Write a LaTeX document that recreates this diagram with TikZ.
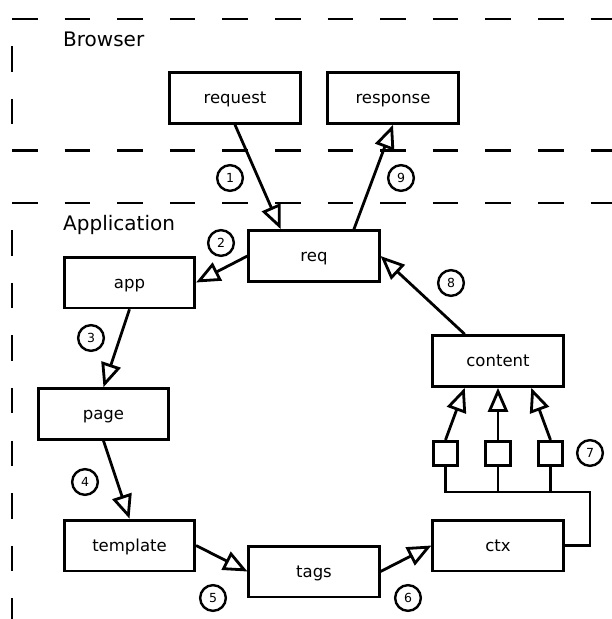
\documentclass[tikz,border=0pt]{standalone}
\usepackage{fontspec}
\setmainfont{DejaVu Sans}
\usetikzlibrary{arrows.meta,calc}
\begin{document}
\begin{tikzpicture}[x=1pt,y=-1pt,
  box/.style={draw,line width=2.8pt,minimum width=130.3pt,minimum height=50.8pt,inner sep=0pt,text height=14pt,text depth=3pt,font=\fontsize{16.5}{20}\selectfont},
  sq/.style={draw,line width=2.8pt,minimum size=24.3pt,inner sep=0pt},
  num/.style={draw,circle,line width=2.4pt,minimum size=25.7pt,inner sep=0pt,font=\fontsize{12.5}{14}\selectfont},
  conn/.style={line width=2.8pt,-{Triangle[open,length=24pt,width=20pt]}},
  wire/.style={line width=2.8pt},
  zone/.style={line width=2.8pt,dash pattern=on 25.5pt off 27.1pt},
  title/.style={anchor=base west,inner sep=0pt,font=\fontsize{20}{24}\selectfont}]
\useasboundingbox (0,0) rectangle (612,619);

% zones
\draw[zone] (12,19) -- (612,19);
\draw[zone] (12,150.5) -- (612,150.5);
\draw[zone] (12,203) -- (612,203);
\draw[zone,dash phase=25.5pt] (12,19) -- (12,150.5);
\draw[zone,dash phase=25.5pt] (12,203) -- (12,619);
\node[title] (browser) at (63,46) {Browser};
\node[title] (application) at (63,230) {Application};

% boxes
\node[box] (request) at (235,98) {request};
\node[box] (response) at (393,98) {response};
\node[box] (req) at (314,256) {req};
\node[box] (app) at (129.5,282.5) {app};
\node[box] (page) at (103.5,414) {page};
\node[box] (template) at (129.5,545.5) {template};
\node[box] (tags) at (314,571.5) {tags};
\node[box] (ctx) at (498,545.5) {ctx};
\node[box] (content) at (498,361) {content};
\node[sq] (s1) at (445.5,453.5) {};
\node[sq] (s2) at (498,453.5) {};
\node[sq] (s3) at (550.5,453.5) {};

% connectors
\draw[conn] (request.south) -- ($(req.north west)!0.25!(req.north east)$);
\draw[conn] ($(req.north west)!0.8!(req.north east)$) -- (response.south);
\draw[conn] (req.west) -- (app.east);
\draw[conn] (app.south) -- (page.north);
\draw[conn] (page.south) -- (template.north);
\draw[conn] (template.east) -- (tags.west);
\draw[conn] (tags.east) -- (ctx.west);
\draw[conn] ($(content.north west)!0.25!(content.north east)$) -- (req.east);
\draw[conn] (s1.north) -- ($(content.south west)!0.25!(content.south east)$);
\draw[conn] (s2.north) -- (content.south);
\draw[conn] (s3.north) -- ($(content.south west)!0.75!(content.south east)$);

\coordinate (busR) at (590,492);
\draw[wire] (s1.south) |- (busR) |- (ctx.east);
\draw[wire] (s2.south) -- (s2.south |- busR);
\draw[wire] (s3.south) -- (s3.south |- busR);

% step numbers
\node[num] (n1) at (230,178) {1};
\node[num] (n2) at (221,243) {2};
\node[num] (n3) at (91,338) {3};
\node[num] (n4) at (85,482) {4};
\node[num] (n5) at (213,598) {5};
\node[num] (n6) at (408,598) {6};
\node[num] (n7) at (590,453) {7};
\node[num] (n8) at (451,283) {8};
\node[num] (n9) at (401,178) {9};
\end{tikzpicture}
\end{document}
